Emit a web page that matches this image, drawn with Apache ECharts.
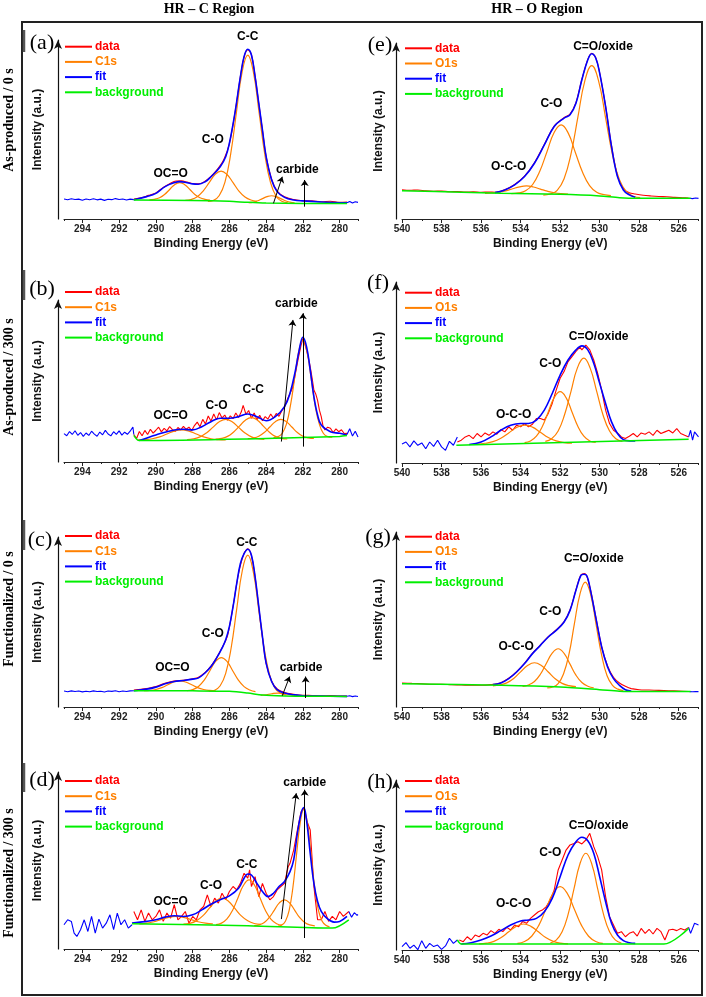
<!DOCTYPE html>
<html><head><meta charset="utf-8">
<script src="https://cdn.jsdelivr.net/npm/echarts@6/dist/echarts.min.js"></script>
<style>html,body{margin:0;padding:0;background:#fff}#c{width:706px;height:997px}</style>
</head><body><div id="c"></div>
<script>
// ---------- tick labels ----------
const cTickLabels = [280,282,284,286,288,290,292,294];
const cMinorTicks = [279,281,283,285,287,289,291,293,295];
const oTickLabels = [526,528,530,532,534,536,538,540];
const oMinorTicks = [525,527,529,531,533,535,537,539];
const cLegend = ['data','C1s','fit','background'];
const oLegend = ['data','O1s','fit','background'];
const rowLabels = ['As-produced / 0 s','As-produced / 300 s','Functionalized / 0 s','Functionalized / 300 s'];
const colHeaders = ['HR \u2013 C Region','HR \u2013 O Region'];

// ---------- panel (a) ----------
const aNoiseL = [[295,11.2],[294.8,10.8],[294.6,11.3],[294.4,10.9],[294.2,11.1],[294,10.5],[293.8,11.2],[293.6,10.8],[293.4,11.3],[293.2,10.7],[293,11.1],[292.8,10.4],[292.6,11.0],[292.4,10.8],[292.2,11.4],[292,10.9],[291.8,11.2],[291.6,10.6],[291.4,11.1],[291.2,10.8]];
const aNoiseR = [[279.6,9.1],[279.45,9.8],[279.3,8.9],[279.15,9.6],[279,9.3]];
const aData = [[291.2,11.2],[290.8,11.8],[290.4,13.2],[290,14.6],[289.6,17.6],[289.2,20.0],[288.9,21.2],[288.6,21.3],[288.3,20.6],[288,19.8],[287.7,19.6],[287.4,20.6],[287,23.8],[286.6,28.4],[286.3,33.2],[286,42],[285.7,59],[285.4,79.5],[285.2,90.5],[285,94.6],[284.8,91.8],[284.6,79.8],[284.4,64.6],[284.2,49.7],[284,34.8],[283.7,22.2],[283.4,15.6],[283,12.4],[282.5,10.9],[282,10.2],[281.5,10.1],[281,9.6],[280.5,9.9],[280,9.3],[279.6,9.4]];
const aFit = [[291.2,10.8],[290.5,12.5],[290,14.3],[289.5,18.1],[289,20.3],[288.7,20.9],[288.3,20.3],[288,19.6],[287.7,19.4],[287.3,20.9],[287,23.6],[286.5,29.2],[286.2,34.8],[286,42.3],[285.7,59],[285.4,79.5],[285.2,90.7],[285,94.8],[284.8,91.6],[284.6,79.5],[284.4,64.6],[284.2,49.7],[284,34.8],[283.7,21.8],[283.4,15.3],[283,12.1],[282.5,10.6],[282,10.1],[281,9.5],[280,9.1],[279.6,9.1]];
const aBg = [[291.2,10.6],[288,10.4],[286,9.9],[285,9.3],[284,8.9],[282,8.7],[279.6,8.6]];
const aPeaks = [
  [[290.35,10.7],[290.08,11.0],[289.8,11.9],[289.53,13.7],[289.25,16.5],[288.98,19.2],[288.7,20.3],[288.43,19.2],[288.15,16.5],[287.88,13.7],[287.6,11.9],[287.33,11.0],[287.05,10.6]],
  [[288.4,10.4],[288.08,10.9],[287.75,12.45],[287.43,15.6],[287.1,20.3],[286.78,24.85],[286.45,26.8],[286.13,24.85],[285.8,20.3],[285.48,15.6],[285.15,12.3],[284.83,10.6],[284.5,9.9]],
  [[287.17,9.9],[286.86,10.4],[286.55,13.1],[286.24,20.6],[285.93,36.2],[285.62,59.3],[285.31,81.9],[285,91.6],[284.69,81.9],[284.38,59.2],[284.07,36],[283.76,20.3],[283.45,12.6],[283.14,9.9],[282.83,9.1]],
  [[284.95,9.1],[284.7,9.45],[284.45,10.2],[284.2,11.4],[283.95,12.5],[283.7,13.0],[283.45,12.5],[283.2,11.4],[282.95,10.2],[282.7,9.45],[282.45,9.0]]
];
const aLabels = [[285.0,102,'C-C'],[286.9,44.1,'C-O'],[289.2,25.5,'OC=O'],[282.3,27.4,'carbide']];
const aArrows = [[[283.6,8.75],[283.12,23.6]],[[281.9,6.9],[281.9,21.8]]];

// ---------- panel (b) ----------
const bNoiseL = [[295,17.5],[294.85,16.2],[294.7,18.8],[294.55,17.0],[294.4,19.3],[294.25,16.5],[294.1,18.2],[293.95,15.8],[293.8,17.9],[293.65,16.4],[293.5,19.0],[293.35,17.2],[293.2,15.9],[293.05,18.5],[292.9,16.8],[292.75,19.5],[292.6,17.3],[292.45,16.1],[292.3,18.7],[292.15,17.0],[292,19.2],[291.85,16.6],[291.7,18.4],[291.55,17.1],[291.4,19.0],[291.25,21.6],[291.2,17.0]];
const bNoiseR = [[279.6,17.0],[279.45,20.5],[279.3,16.0],[279.15,19.0],[279,15.5]];
const bData = [[291.2,17.0],[291.05,14.5],[290.9,18.8],[290.75,16.2],[290.6,19.5],[290.45,17.0],[290.3,20.2],[290.15,17.8],[290,19.6],[289.85,21.5],[289.7,18.6],[289.55,20.8],[289.4,19.2],[289.25,21.9],[289.1,20.0],[288.95,18.9],[288.8,21.3],[288.65,19.8],[288.5,22.0],[288.35,20.2],[288.2,21.5],[288.05,19.4],[287.9,22.5],[287.75,24.6],[287.6,21.8],[287.45,26.3],[287.3,23.5],[287.15,28.4],[287,25.2],[286.85,29.6],[286.7,26.0],[286.55,30.5],[286.4,27.2],[286.25,29.0],[286.1,25.8],[285.95,28.5],[285.8,26.7],[285.65,30.2],[285.5,27.5],[285.35,31.0],[285.25,35.0],[285.1,29.5],[284.95,31.8],[284.8,27.0],[284.65,30.2],[284.5,26.0],[284.35,28.8],[284.2,25.5],[284.05,28.0],[283.9,26.5],[283.75,29.6],[283.6,27.0],[283.45,30.0],[283.3,28.2],[283.15,31.5],[283,34.0],[282.85,38.5],[282.7,42.5],[282.55,46.0],[282.4,55.0],[282.25,64.0],[282.1,72.0],[282,76.3],[281.9,73.0],[281.8,69.0],[281.7,64.5],[281.6,58.8],[281.5,52.0],[281.4,44.4],[281.3,42.0],[281.2,38.0],[281.1,32.0],[281,28.0],[280.9,22.0],[280.8,19.8],[280.65,21.5],[280.5,20.8],[280.35,18.2],[280.2,20.4],[280.05,18.7],[279.9,19.9],[279.75,17.6],[279.6,17.7]];
const bFit = [[290.9,13.2],[290,16.7],[289,19.8],[288.5,20.2],[288,19.8],[287.5,21.8],[287,24.9],[286.5,27],[286,27],[285.5,28],[285,29.6],[284.5,28],[284,25.5],[283.5,28],[283,34.2],[282.7,42.4],[282.4,56.8],[282.2,69.1],[282,77],[281.8,71.2],[281.6,56.8],[281.4,40.3],[281.2,29],[281,22.8],[280.5,18.7],[280,17.7],[279.6,16.7]];
const bBg = [[291.2,16.5],[290.9,13.2],[285,14.2],[280,15.8],[279.6,16.3]];
const bPeaks = [
  [[291.0,13.6],[290.6,13.8],[290.2,14.35],[289.8,15.5],[289.4,17.3],[289.0,19.06],[288.6,19.8],[288.2,19.06],[287.8,17.3],[287.4,15.5],[287.0,14.35],[286.6,13.8],[286.2,13.6]],
  [[288.3,13.9],[287.95,14.35],[287.6,15.5],[287.25,17.9],[286.9,21.4],[286.55,24.8],[286.2,26.3],[285.85,24.8],[285.5,21.4],[285.15,17.9],[284.8,15.5],[284.45,14.35],[284.1,13.9]],
  [[286.75,14.1],[286.43,14.6],[286.1,15.8],[285.78,18.4],[285.45,22.1],[285.13,25.8],[284.8,27.4],[284.47,25.8],[284.15,22.1],[283.82,18.4],[283.5,15.8],[283.17,14.6],[282.85,14.2]],
  [[285.0,14.4],[284.7,14.8],[284.4,15.9],[284.1,18.2],[283.8,21.6],[283.5,24.9],[283.2,26.3],[282.9,24.9],[282.6,21.6],[282.3,18.2],[282.0,15.9],[281.7,14.9],[281.4,14.5]],
  [[283.6,15.1],[283.35,15.7],[283.13,17.6],[282.9,23.2],[282.68,34.6],[282.45,51.6],[282.23,68.2],[282.0,75.3],[281.78,68.2],[281.55,51.6],[281.33,34.6],[281.1,23.2],[280.88,17.6],[280.65,15.7],[280.4,15.3]]
];
const bLabels = [[282.35,98,'carbide'],[284.7,44.4,'C-C'],[286.7,34.8,'C-O'],[289.2,28.6,'OC=O']];
const bArrows = [[[283.17,12.6],[282.54,87.7]],[[282.0,9.5],[282.0,91.8]]];

// ---------- panel (c) ----------
const cNoiseL = [[295,9.4],[294.8,9.0],[294.6,9.5],[294.4,9.1],[294.2,9.4],[294,8.9],[293.8,9.3],[293.6,9.0],[293.4,9.5],[293.2,9.1],[293,9.3],[292.8,8.8],[292.6,9.4],[292.4,9.2],[292.2,9.6],[292,9.0],[291.8,9.4],[291.6,9.1],[291.4,9.5],[291.2,9.6]];
const cNoiseR = [[279.6,6.3],[279.45,6.6],[279.3,6.1],[279.15,6.5],[279,6.2]];
const cData = [[291.2,9.9],[290.8,10.4],[290.4,11.0],[290,12.0],[289.6,13.6],[289.2,14.9],[288.8,15.6],[288.4,15.9],[288,16.6],[287.7,17.4],[287.3,20.5],[287,24.0],[286.7,28.9],[286.4,34.8],[286.1,42.0],[285.8,59.2],[285.5,78.6],[285.2,90.4],[285,93.0],[284.8,89.0],[284.6,76.4],[284.4,58.6],[284.2,41.0],[284,25.6],[283.7,15.2],[283.4,10.6],[283,8.5],[282.5,7.5],[282,6.9],[281.5,6.8],[281,6.6],[280.5,6.7],[280,6.4],[279.6,6.5]];
const cFit = [[291.2,9.6],[290.5,10.5],[290,11.7],[289.5,13.7],[289,15.0],[288.5,15.6],[288,16.4],[287.7,17],[287.3,20.3],[287,23.8],[286.7,28.7],[286.4,34.6],[286.2,39.5],[286,47.3],[285.8,59],[285.6,72.7],[285.4,84.4],[285.2,90.2],[285,92.8],[284.8,89.3],[284.6,76.6],[284.4,59],[284.2,41.4],[284,25.8],[283.7,15],[283.4,10.2],[283,8.2],[282.5,7.2],[282,6.6],[281,6.4],[279.6,6.25]];
const cBg = [[291.2,9.6],[288,9.5],[286,9.2],[285,8.2],[284.2,7.0],[283,6.5],[281,6.3],[279.6,6.2]];
const cPeaks = [
  [[290.65,9.56],[290.33,9.76],[290.0,10.3],[289.68,11.4],[289.35,13.1],[289.03,14.7],[288.7,15.4],[288.38,14.7],[288.05,13.1],[287.73,11.4],[287.4,10.3],[287.08,9.76],[286.75,9.56]],
  [[288.3,9.6],[287.99,10.3],[287.68,12.1],[287.37,15.8],[287.06,21.35],[286.75,26.8],[286.44,29.1],[286.13,26.8],[285.82,21.35],[285.51,15.8],[285.2,12.0],[284.89,10.0],[284.58,9.0]],
  [[287.1,9.3],[286.8,9.9],[286.5,12.5],[286.2,19.8],[285.9,35],[285.6,57.7],[285.3,80],[285,89.3],[284.7,79.6],[284.4,57],[284.1,34],[283.8,18.5],[283.5,10.8],[283.2,8.0],[282.9,7.1]],
  [[284.3,6.8],[284.0,7.2],[283.7,7.8],[283.35,8.2],[283.0,7.8],[282.7,7.2],[282.4,6.7]]
];
const cLabels = [[285.05,96.7,'C-C'],[286.9,43.4,'C-O'],[289.1,23.2,'OC=O'],[282.1,22.9,'carbide']];
const cArrows = [[[283.12,6.6],[282.72,17.9]],[[281.85,5.3],[281.85,17.9]]];

// ---------- panel (d) ----------
const dNoiseL = [[295,13.7],[294.8,16.5],[294.6,15.6],[294.45,9.0],[294.3,7.1],[294.1,10.9],[293.9,16.5],[293.7,9.9],[293.5,18.4],[293.3,9.0],[293.1,16.9],[292.9,11.8],[292.7,14.6],[292.5,19.3],[292.3,10.9],[292.1,20.3],[291.9,13.7],[291.7,16.5],[291.5,11.8],[291.3,13.7]];
const dNoiseR = [[279.5,21.2],[279.35,18.0],[279.2,20.5],[279.05,19.0],[279,19.5]];
const dData = [[291.2,21.2],[291.0,16.5],[290.8,22.1],[290.6,15.6],[290.4,20.3],[290.2,16.5],[290.0,18.4],[289.8,22.1],[289.6,15.6],[289.4,20.3],[289.2,17.4],[289.0,25.0],[288.8,16.5],[288.6,18.4],[288.4,21.2],[288.2,14.6],[288.0,18.4],[287.8,16.5],[287.6,22.1],[287.4,24.0],[287.2,30.6],[287.0,24.0],[286.8,28.7],[286.6,25.9],[286.4,31.5],[286.2,27.8],[286.0,32.5],[285.8,35.3],[285.6,33.4],[285.4,37.1],[285.2,42.8],[285.0,40.0],[284.9,44.7],[284.8,35.3],[284.6,40.9],[284.4,29.6],[284.2,37.1],[284.0,31.5],[283.8,27.8],[283.6,29.6],[283.4,33.4],[283.2,35.3],[283.0,37.1],[282.8,46.5],[282.7,48.4],[282.5,55.9],[282.3,67.2],[282.1,77.5],[281.95,79.9],[281.8,72.8],[281.6,67.2],[281.4,35.3],[281.2,16.5],[281.0,16.5],[280.8,21.2],[280.6,15.6],[280.4,18.4],[280.2,16.5],[280.0,21.2],[279.8,18.4],[279.5,21.2]];
const dFit = [[291.3,14.6],[290.5,15.6],[290,16.5],[289.5,18],[289,18.8],[288.5,18.4],[288,19.3],[287.5,22.1],[287,25.3],[286.5,27.8],[286,30],[285.5,34.3],[285.2,40],[285,42.4],[284.8,41.8],[284.5,37.1],[284.2,32.5],[283.9,29.6],[283.6,31.5],[283.3,35.3],[283,38.1],[282.7,43.7],[282.5,50.3],[282.3,65.3],[282.1,76.5],[281.95,79.9],[281.8,72.8],[281.6,54],[281.4,37.1],[281.2,26.8],[281,21.2],[280.7,17.4],[280.3,15.2],[280,15.6],[279.6,18.4]];
const dBg = [[291.3,14.3],[285,13.1],[280.4,11.8],[279.5,16.5]];
const dPeaks = [
  [[290.9,14.2],[290.5,14.6],[290.1,15.4],[289.7,16.7],[289.3,17.9],[288.9,18.4],[288.5,17.9],[288.1,16.7],[287.7,15.4],[287.3,14.6],[286.9,14.2]],
  [[288.5,14.1],[288.15,14.5],[287.8,15.9],[287.45,18.7],[287.1,22.9],[286.75,27.0],[286.4,28.7],[286.05,27.0],[285.7,22.9],[285.35,18.7],[285.0,15.9],[284.65,14.4],[284.3,13.9]],
  [[286.73,13.8],[286.43,14.6],[286.13,17.0],[285.83,21.8],[285.53,29.0],[285.23,36.0],[284.93,39.0],[284.63,36.0],[284.33,28.8],[284.03,21.6],[283.73,16.7],[283.43,14.3],[283.13,13.5]],
  [[284.65,13.2],[284.38,13.65],[284.1,15.0],[283.83,17.8],[283.55,22.0],[283.28,26.1],[283.0,27.8],[282.73,26.1],[282.45,22.0],[282.18,17.8],[281.9,15.0],[281.63,13.6],[281.35,13.1]],
  [[283.35,12.9],[283.15,13.5],[282.95,15.7],[282.75,21.7],[282.55,34.2],[282.35,52.8],[282.15,71.0],[281.95,78.8],[281.75,71.0],[281.55,52.8],[281.35,34.2],[281.15,21.7],[280.95,15.7],[280.75,13.4],[280.55,12.5]]
];
const dLabels = [[281.9,94,'carbide'],[285.05,47.5,'C-C'],[287.0,35.8,'C-O'],[289.2,26.5,'OC=O']];
const dArrows = [[[283.17,16.9],[282.36,88]],[[281.9,6.2],[281.9,90]]];

// ---------- panel (e) ----------
const eNoiseL = [];
const eNoiseR = [[525.45,11.8],[525.3,11.6],[525.15,11.9],[525,11.7]];
const eData = [[540,16.6],[539.6,16.3],[539.2,16.5],[538.8,16.0],[538.4,15.8],[538,15.9],[537.6,15.5],[537.2,15.6],[536.8,15.3],[536.4,15.4],[536,15.2],[535.6,15.3],[535.3,15.2],[534.8,16.6],[534.3,19.6],[533.8,24.3],[533.3,31.9],[532.8,42.3],[532.3,52.8],[531.8,57.6],[531.5,59.6],[531.2,66.1],[530.9,79.4],[530.6,90.7],[530.4,94.2],[530.2,91.7],[530,83.1],[529.7,64.1],[529.4,41.5],[529.1,24.5],[528.8,17.2],[528.5,14.9],[528.2,14.2],[527.8,13.5],[527.4,13.1],[527,12.8],[526.6,12.6],[526.2,12.3],[525.8,12.1],[525.5,11.9]];
const eFit = [[535.3,15.0],[534.8,16.5],[534.3,19.4],[533.8,24.1],[533.3,31.7],[532.8,42.1],[532.3,52.6],[531.8,57.3],[531.5,59.2],[531.2,65.8],[530.9,79.1],[530.6,90.5],[530.4,93.9],[530.2,91.5],[530,82.9],[529.7,63.9],[529.4,41.2],[529.1,24.1],[528.8,16.5],[528.5,13.7],[528.2,12.3]];
const eBg = [[540,16.1],[537,15.2],[535,14.6],[532,14.0],[530,13.1],[529,12.1],[528,11.8],[525.4,11.8]];
const ePeaks = [
  [[535.8,14.6],[535.45,14.8],[535.1,15.2],[534.75,16.0],[534.4,17.2],[534.05,18.3],[533.7,18.8],[533.35,18.2],[533.0,17.0],[532.65,15.8],[532.3,14.9],[531.95,14.4],[531.6,14.2]],
  [[534.47,14.4],[534.11,14.8],[533.75,16.0],[533.39,19.6],[533.03,27.1],[532.67,38.1],[532.31,49.0],[531.95,53.5],[531.59,48.8],[531.23,37.8],[530.87,26.7],[530.51,19.0],[530.15,15.2],[529.79,13.9],[529.43,13.3]],
  [[532.85,13.6],[532.5,14.2],[532.15,16.3],[531.8,22.9],[531.45,37.0],[531.1,58.0],[530.75,78.5],[530.4,87.1],[530.05,78.2],[529.7,57.5],[529.35,36.4],[529.0,22.3],[528.65,15.5],[528.3,12.9],[527.95,12.1]]
];
const eLabels = [[529.83,98.1,'C=O/oxide'],[532.44,65.5,'C-O'],[534.6,29.8,'O-C-O']];
const eArrows = [];

// ---------- panel (f) ----------
const fNoiseL = [[540,10.5],[539.8,11.6],[539.6,8.9],[539.4,12.2],[539.2,9.8],[539.0,11.1],[538.8,7.9],[538.6,11.6],[538.4,9.2],[538.2,12.6],[538.0,8.9],[537.8,7.0],[537.6,12.0],[537.4,9.8],[537.2,14.4]];
const fNoiseR = [[525.5,14.4],[525.4,18.1],[525.3,12.6],[525.2,17.2],[525.0,14.4]];
const fData = [[537.2,11.6],[537.0,12.6],[536.8,14.4],[536.6,15.3],[536.4,13.5],[536.2,16.3],[536.0,14.4],[535.8,16.6],[535.6,15.3],[535.4,17.2],[535.2,15.9],[535.0,18.5],[534.8,17.2],[534.6,20.0],[534.4,18.1],[534.2,20.9],[534.0,20.0],[533.8,21.8],[533.6,20.0],[533.4,21.4],[533.2,24.6],[533.0,24.6],[532.8,23.7],[532.6,27.4],[532.4,32.9],[532.2,40.3],[532.0,46.8],[531.8,50.5],[531.6,56.0],[531.4,58.8],[531.2,61.6],[531.0,64.0],[530.9,62.5],[530.8,63.4],[530.7,65.2],[530.5,62.5],[530.3,56.9],[530.1,49.5],[529.9,40.3],[529.7,29.2],[529.5,21.8],[529.3,18.1],[529.1,16.6],[528.9,14.4],[528.7,13.5],[528.5,14.8],[528.3,16.3],[528.1,14.4],[527.9,16.6],[527.7,15.9],[527.5,17.2],[527.3,15.3],[527.1,18.1],[526.9,16.3],[526.7,17.2],[526.5,18.1],[526.3,16.6],[526.1,19.0],[525.9,16.3],[525.7,15.3],[525.5,14.4]];
const fFit = [[536.6,10.2],[536.0,11.6],[535.5,14.4],[535.0,18.1],[534.5,20.9],[534.0,21.8],[533.6,21.8],[533.2,23.7],[532.8,29.2],[532.4,38.4],[532.0,48.6],[531.6,56.9],[531.2,62.5],[530.9,64.7],[530.6,62.5],[530.3,55.1],[530.0,44.0],[529.7,32.9],[529.4,22.7],[529.1,16.3],[528.8,12.9],[528.5,12.2],[528.2,12.2]];
const fBg = [[537.25,9.8],[525.5,13.1]];
const fPeaks = [
  [[536.2,10.5],[535.8,10.9],[535.4,11.8],[535.0,13.7],[534.6,16.6],[534.2,19.6],[533.8,20.9],[533.4,19.8],[533.0,17.0],[532.6,14.1],[532.2,12.2],[531.8,11.3],[531.4,11.0]],
  [[533.8,11.3],[533.5,12.2],[533.2,14.8],[532.9,20.2],[532.6,28.2],[532.3,36.1],[532.0,39.4],[531.7,36.1],[531.4,28.2],[531.1,20.2],[530.8,14.8],[530.5,12.2],[530.2,11.4]],
  [[532.75,11.9],[532.43,13.4],[532.1,17.7],[531.78,26.5],[531.45,39.6],[531.13,52.4],[530.8,57.9],[530.48,52.4],[530.15,39.6],[529.83,26.5],[529.5,17.7],[529.18,13.4],[528.85,11.9]]
];
const fLabels = [[530.05,69.9,'C=O/oxide'],[532.5,55,'C-O'],[534.35,26.8,'O-C-O']];
const fArrows = [];

// ---------- panel (g) ----------
const gNoiseL = [];
const gNoiseR = [[525.45,8.8],[525.3,8.7],[525.15,8.9],[525,8.8]];
const gData = [[540,13.7],[539.5,13.5],[539,13.3],[538.5,13.0],[538,13.0],[537.5,12.7],[537,12.6],[536.5,12.4],[536,12.4],[535.5,12.8],[535.0,13.9],[534.6,16.4],[534.2,20.2],[533.8,25.0],[533.4,30.7],[533.0,35.4],[532.6,40.2],[532.2,44.0],[531.8,48.8],[531.5,55.4],[531.2,66.9],[530.95,75.4],[530.75,76.2],[530.5,68.8],[530.2,51.6],[529.9,34.5],[529.6,23.5],[529.3,17.0],[529.0,13.7],[528.7,11.8],[528.4,10.5],[528,9.9],[527.5,9.7],[527,9.5],[526.5,9.3],[526,9.1],[525.5,8.9]];
const gFit = [[535.4,12.8],[535,13.7],[534.6,16.2],[534.2,20],[533.8,24.8],[533.4,30.5],[533,35.2],[532.6,40],[532.2,43.8],[531.8,48.6],[531.5,55.2],[531.2,66.7],[530.95,75.2],[530.8,75.9],[530.65,75.0],[530.5,68.6],[530.2,51.4],[529.9,34.3],[529.6,22.9],[529.3,16.2],[529,12.4],[528.7,9.9],[528.4,9.1]];
const gBg = [[540,13.3],[535,12.4],[532,11.4],[530,9.9],[529,9.0],[528,8.8],[525.4,8.8]];
const gPeaks = [
  [[535.4,12.1],[535.05,12.6],[534.7,13.8],[534.35,16.3],[534.0,20.1],[533.65,23.7],[533.3,25.3],[532.95,23.7],[532.6,20.0],[532.25,16.1],[531.9,13.5],[531.55,12.2],[531.2,11.6]],
  [[533.9,11.8],[533.6,12.6],[533.3,14.6],[533.0,18.7],[532.7,24.9],[532.4,30.8],[532.1,33.3],[531.8,30.6],[531.5,24.5],[531.2,18.2],[530.9,14.0],[530.6,11.9],[530.3,11.0]],
  [[532.65,10.9],[532.38,11.4],[532.1,13.4],[531.83,18.9],[531.55,30.3],[531.28,47.5],[531.0,64.4],[530.73,71.4],[530.45,64.0],[530.18,47.0],[529.9,29.6],[529.63,18.0],[529.35,12.3],[529.08,10.2],[528.8,9.4]]
];
const gLabels = [[530.3,84.8,'C=O/oxide'],[532.5,54.3,'C-O'],[534.23,34.3,'O-C-O']];
const gArrows = [];

// ---------- panel (h) ----------
const hNoiseL = [[540,2.0],[539.8,4.3],[539.6,1.0],[539.4,2.9],[539.2,0.2],[539.0,5.5],[538.8,1.0],[538.6,3.9],[538.4,2.0],[538.2,2.9],[538.0,0.4],[537.8,2.4],[537.6,6.9],[537.4,3.9],[537.2,5.9]];
const hNoiseR = [[525.5,13.3],[525.4,9.8],[525.2,15.7],[525.0,14.7]];
const hData = [[537.1,5.9],[536.9,4.9],[536.7,7.8],[536.5,5.9],[536.3,8.8],[536.1,7.8],[535.9,9.8],[535.7,8.8],[535.5,11.4],[535.3,9.8],[535.1,12.2],[534.9,10.8],[534.7,13.3],[534.5,11.8],[534.3,14.7],[534.1,13.7],[533.9,16.7],[533.7,15.7],[533.5,18.6],[533.3,20.6],[533.1,22.5],[532.9,23.5],[532.7,25.5],[532.5,29.4],[532.3,35.3],[532.1,47.1],[531.9,52.9],[531.7,58.8],[531.5,61.8],[531.3,62.7],[531.1,63.7],[530.9,62.4],[530.7,64.7],[530.5,68.6],[530.3,60.8],[530.1,54.9],[529.9,47.1],[529.7,31.4],[529.5,19.6],[529.3,14.7],[529.1,9.8],[528.9,10.8],[528.7,7.8],[528.5,9.8],[528.3,10.8],[528.1,8.2],[527.9,12.7],[527.7,9.8],[527.5,12.2],[527.3,9.4],[527.1,12.7],[526.9,10.8],[526.7,5.9],[526.5,11.8],[526.3,12.2],[526.1,11.4],[525.9,12.7],[525.7,11.8],[525.5,13.3]];
const hFit = [[537,3.5],[536.5,4.3],[536,5.9],[535.5,8.2],[535,11.4],[534.5,14.7],[534,17.1],[533.6,17.6],[533.2,18.6],[532.8,22.5],[532.4,30.4],[532,43.1],[531.6,55.9],[531.2,63.7],[530.9,66.3],[530.6,64.3],[530.3,56.9],[530,43.1],[529.7,28.4],[529.4,15.7],[529.1,8.8],[528.8,5.5],[528.5,4.3],[528.2,3.9]];
const hBg = [[537.2,5.9],[537.0,3.5],[526.75,3.5],[525.5,12.7]];
const hPeaks = [
  [[536.1,3.6],[535.73,4.0],[535.35,5.1],[534.98,7.3],[534.6,10.7],[534.23,13.9],[533.85,15.3],[533.48,13.9],[533.1,10.7],[532.73,7.3],[532.35,5.1],[531.98,4.0],[531.6,3.6]],
  [[534.16,3.9],[533.8,5.0],[533.44,8.1],[533.08,14.5],[532.72,24.0],[532.36,33.3],[532.0,37.3],[531.64,33.3],[531.28,24.0],[530.92,14.5],[530.56,8.1],[530.2,5.0],[529.84,3.9]],
  [[532.5,4.1],[532.2,5.8],[531.9,10.7],[531.6,20.8],[531.3,35.9],[531.0,50.6],[530.7,56.9],[530.4,50.6],[530.1,35.9],[529.8,20.8],[529.5,10.7],[529.2,5.8],[528.9,4.1]]
];
const hLabels = [[530.05,72.9,'C=O/oxide'],[532.5,57.5,'C-O'],[534.35,27.5,'O-C-O']];
const hArrows = [];

// ---------- assembly ----------
const panels = [
  {id:'a', data:aData, fit:aFit, noise:[aNoiseL,aNoiseR], bg:aBg, peaks:aPeaks, labels:aLabels, arrows:aArrows, smooth:true},
  {id:'b', data:bData, fit:bFit, noise:[bNoiseL,bNoiseR], bg:bBg, peaks:bPeaks, labels:bLabels, arrows:bArrows, smooth:false},
  {id:'c', data:cData, fit:cFit, noise:[cNoiseL,cNoiseR], bg:cBg, peaks:cPeaks, labels:cLabels, arrows:cArrows, smooth:true},
  {id:'d', data:dData, fit:dFit, noise:[dNoiseL,dNoiseR], bg:dBg, peaks:dPeaks, labels:dLabels, arrows:dArrows, smooth:false},
  {id:'e', data:eData, fit:eFit, noise:[eNoiseL,eNoiseR], bg:eBg, peaks:ePeaks, labels:eLabels, arrows:eArrows, smooth:true},
  {id:'f', data:fData, fit:fFit, noise:[fNoiseL,fNoiseR], bg:fBg, peaks:fPeaks, labels:fLabels, arrows:fArrows, smooth:false},
  {id:'g', data:gData, fit:gFit, noise:[gNoiseL,gNoiseR], bg:gBg, peaks:gPeaks, labels:gLabels, arrows:gArrows, smooth:true},
  {id:'h', data:hData, fit:hFit, noise:[hNoiseL,hNoiseR], bg:hBg, peaks:hPeaks, labels:hLabels, arrows:hArrows, smooth:false}
];

// layout (pixels)
const COLS = [{left:64, width:294, min:279, max:295, ticks:cTickLabels, minor:cMinorTicks, legend:cLegend, legX:65, nameGap:14},
              {left:402, width:296.5, min:525, max:540, ticks:oTickLabels, minor:oMinorTicks, legend:oLegend, legX:405, nameGap:11}];
const LAYOUT = {
  a:{col:0, top:40,  line:219, legY:46.7, tag:[42,43]},
  b:{col:0, top:300, line:462, legY:292,  tag:[42,289]},
  c:{col:0, top:537, line:707, legY:536,  tag:[40,540]},
  d:{col:0, top:772, line:949, legY:781,  tag:[42,780]},
  e:{col:1, top:43,  line:219, legY:48.3, tag:[380,45]},
  f:{col:1, top:282, line:463, legY:292.7,tag:[378,283]},
  g:{col:1, top:532, line:707, legY:536.7,tag:[378,537]},
  h:{col:1, top:780, line:950, legY:781,  tag:[380,782]}
};
const RED='#ff0000', ORANGE='#ff8000', BLUE='#0000ff', GREEN='#00ee00';
const LEGCOL = [RED, ORANGE, BLUE, GREEN];
const SANS = '"Liberation Sans", Arial, sans-serif';
const SERIF = '"Liberation Serif", "Times New Roman", serif';

const grid=[], xAxis=[], yAxis=[], series=[], graphic=[];
panels.forEach((p,i)=>{
  const L = LAYOUT[p.id], C = COLS[L.col];
  grid.push({left:C.left, width:C.width, top:L.top, height:L.line-L.top});
  xAxis.push({type:'value', gridIndex:i, min:C.min, max:C.max, inverse:true, position:'bottom',
    axisLine:{show:true, onZero:false, lineStyle:{color:'#222', width:1}},
    axisTick:{show:true, length:4, customValues:C.ticks, lineStyle:{color:'#222'}},
    axisLabel:{show:true, customValues:C.ticks, margin:5, fontSize:10, fontWeight:'bold', color:'#222', fontFamily:SANS},
    splitLine:{show:false},
    name:'Binding Energy (eV)', nameLocation:'middle', nameGap:19,
    nameTextStyle:{fontSize:12, fontWeight:'bold', color:'#111', fontFamily:SANS}});
  xAxis.push({type:'value', gridIndex:i, min:C.min, max:C.max, inverse:true, position:'bottom',
    axisLine:{show:false}, axisTick:{show:true, length:2, customValues:C.minor, lineStyle:{color:'#222'}},
    axisLabel:{show:false}, splitLine:{show:false}});
  yAxis.push({type:'value', gridIndex:i, min:0, max:100, offset:6,
    axisLine:{show:true, onZero:false, symbol:['none','arrow'], symbolSize:[6,9], lineStyle:{color:'#111', width:1.2}},
    axisTick:{show:false}, axisLabel:{show:false}, splitLine:{show:false},
    name:'Intensity (a.u.)', nameLocation:'middle', nameRotate:90, nameGap:C.nameGap,
    nameTextStyle:{fontSize:12, fontWeight:'bold', color:'#111', fontFamily:SANS}});
  const xi = 2*i, yi = i;
  const base = {type:'line', xAxisIndex:xi, yAxisIndex:yi, showSymbol:false, symbol:'none', silent:true, animation:false};
  series.push(Object.assign({}, base, {name:'data', data:p.data, smooth:p.smooth?0.3:false, lineStyle:{color:RED, width:1.1}, z:2}));
  p.peaks.forEach(pk=>series.push(Object.assign({}, base, {name:'comp', data:pk, smooth:0.45, lineStyle:{color:ORANGE, width:1.2}, z:3})));
  p.noise.forEach(nz=>{ if(nz.length) series.push(Object.assign({}, base, {name:'fit', data:nz, smooth:false, lineStyle:{color:BLUE, width:1.1}, z:4})); });
  series.push(Object.assign({}, base, {name:'fit', data:p.fit, smooth:0.4, lineStyle:{color:BLUE, width:1.6}, z:4}));
  series.push(Object.assign({}, base, {name:'background', data:p.bg, smooth:0.3, lineStyle:{color:GREEN, width:1.5}, z:5}));
  if (p.arrows.length) series.push({type:'lines', coordinateSystem:'cartesian2d', xAxisIndex:xi, yAxisIndex:yi, silent:true, animation:false,
    data:p.arrows.map(a=>({coords:a})), symbol:['none','arrow'], symbolSize:6,
    lineStyle:{color:'#000', width:1, opacity:1, curveness:0}, z:6});
  // legend
  C.legend.forEach((nm,k)=>{
    const y = L.legY + k*15.2;
    graphic.push({type:'line', shape:{x1:C.legX, y1:y, x2:C.legX+27, y2:y}, style:{stroke:LEGCOL[k], lineWidth:2}, silent:true});
    graphic.push({type:'text', x:C.legX+30, y:y, style:{text:nm, fill:LEGCOL[k], fontSize:12, fontWeight:'bold', fontFamily:SANS, align:'left', verticalAlign:'middle'}, silent:true});
  });
  graphic.push({type:'text', x:L.tag[0], y:L.tag[1], style:{text:'('+p.id+')', fill:'#000', fontSize:22, fontFamily:SERIF, align:'center', verticalAlign:'middle'}, silent:true});
});
// frame, headers, row labels
graphic.push({type:'rect', shape:{x:22, y:22, width:680, height:973}, style:{fill:'none', stroke:'#222', lineWidth:2}, silent:true});
[[209,colHeaders[0]],[537,colHeaders[1]]].forEach(h=>graphic.push({type:'text', x:h[0], y:9, style:{text:h[1], fill:'#000', fontSize:14, fontWeight:'bold', fontFamily:SERIF, align:'center', verticalAlign:'middle'}, silent:true}));
[120,377,609,873].forEach((cy,k)=>graphic.push({type:'text', x:9, y:cy, rotation:Math.PI/2, style:{text:rowLabels[k], fill:'#000', fontSize:14, fontWeight:'bold', fontFamily:SERIF, align:'center', verticalAlign:'middle'}, silent:true}));
[[30,52],[270,300],[520,550],[763,792]].forEach(s=>graphic.push({type:'line', shape:{x1:24, y1:s[0], x2:24, y2:s[1]}, style:{stroke:'#555', lineWidth:2.5}, silent:true}));

const chart = echarts.init(document.getElementById('c'), null, {renderer:'canvas'});
chart.setOption({animation:false, backgroundColor:'#fff', grid, xAxis, yAxis, series, graphic});

// peak annotations: positioned through each panel's own axes
const peakText = [];
panels.forEach((p,i)=>{
  p.labels.forEach(l=>{
    const pt = chart.convertToPixel({xAxisIndex:2*i, yAxisIndex:i}, [l[0], l[1]]);
    peakText.push({type:'text', x:pt[0], y:pt[1], z:100, silent:true,
      style:{text:l[2], fill:'#000', fontSize:12, fontWeight:'bold', fontFamily:SANS, align:'center', verticalAlign:'middle'}});
  });
});
chart.setOption({graphic: graphic.concat(peakText)}, {replaceMerge:['graphic']});
</script></body></html>
